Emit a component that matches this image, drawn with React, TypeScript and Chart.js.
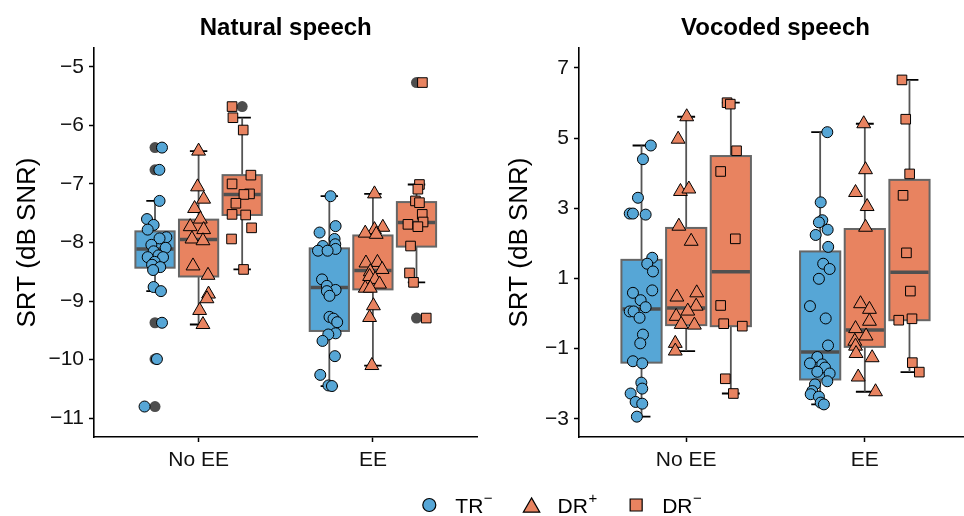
import React, { useEffect, useRef } from "react";
import { Chart, registerables } from "chart.js";

Chart.register(...registerables);

const FONT = '"Liberation Sans", Arial, Helvetica, sans-serif';
Chart.defaults.font.family = FONT;

// ---------- categories / legend ----------
const groupLabels = ["No EE", "EE"];
const conditionNames = ["TR", "DR", "DR"];
const conditionSups = ["\u2212", "+", "\u2212"];
const fills = ["#56A6D6", "#E88360", "#E88360"];
const shapes = ["circle", "triangle", "rect"];

// ---------- Natural speech ----------
const natTicks = [-11, -10, -9, -8, -7, -6, -5];
// box stats: [lower whisker, Q1, median, Q3, upper whisker]
// order: NoEE TR, NoEE DR+, NoEE DR-, EE TR, EE DR+, EE DR-
const natBoxes = [
  [-8.83, -8.43, -8.11, -7.81, -7.29],
  [-9.4, -8.58, -7.95, -7.61, -6.44],
  [-8.46, -7.53, -7.18, -6.85, -5.87],
  [-10.45, -9.51, -8.77, -8.1, -7.21],
  [-10.1, -8.8, -8.48, -7.88, -7.17],
  [-8.68, -8.07, -7.66, -7.31, -7.01],
];
const natOutliers = [
  [-6.38, -6.76, -9.37, -9.99, -10.8],
  [],
  [-5.68],
  [],
  [],
  [-5.27, -9.29],
];
const natNoEE_TR_y = [-6.38, -6.76, -7.29, -7.6, -7.7, -7.78, -7.91, -7.93, -8.04, -8.09, -8.15, -8.22, -8.25, -8.25, -8.33, -8.38, -8.42, -8.47, -8.76, -8.83, -9.37, -9.99, -10.8];
const natNoEE_TR_dx = [0.04, 0.025, 0.026, -0.046, -0.008, -0.042, 0.065, 0.026, -0.021, 0.061, -0.008, 0.02, -0.042, 0.046, -0.002, -0.017, 0.03, -0.011, -0.008, 0.034, 0.04, 0.011, -0.06];
const natNoEE_DRp_y = [-6.44, -7.05, -7.26, -7.42, -7.6, -7.73, -7.78, -7.94, -7.97, -8.4, -8.56, -8.88, -8.96, -9.16, -9.4];
const natNoEE_DRp_dx = [0, -0.006, 0.029, -0.023, 0.01, -0.048, 0.029, -0.038, 0.025, -0.032, 0.054, 0.057, 0.048, 0.006, 0.025];
const natNoEE_DRm_y = [-5.68, -5.87, -6.08, -6.85, -7.0, -7.17, -7.18, -7.33, -7.52, -7.53, -7.75, -7.94, -8.46];
const natNoEE_DRm_dx = [-0.058, -0.053, 0.006, 0.05, -0.058, 0.042, 0.01, -0.036, -0.058, 0.02, 0.054, -0.061, 0.008];
const natEE_TR_y = [-7.21, -7.72, -7.83, -7.94, -8.03, -8.06, -8.11, -8.14, -8.14, -8.63, -8.74, -8.81, -8.83, -8.91, -9.27, -9.3, -9.36, -9.55, -9.57, -9.68, -9.94, -10.26, -10.44, -10.45];
const natEE_TR_dx = [0.007, 0.036, -0.056, 0.03, 0.034, -0.037, 0.036, -0.065, -0.01, -0.042, -0.014, 0.036, -0.014, 0.001, 0.001, 0.024, 0.045, 0.036, -0.006, -0.039, 0.032, -0.052, -0.005, 0.015];
const natEE_DRp_y = [-7.17, -7.74, -7.78, -7.84, -7.86, -8.34, -8.35, -8.46, -8.5, -8.58, -8.63, -8.71, -8.78, -8.78, -9.08, -9.28, -10.1];
const natEE_DRp_dx = [0.009, 0.057, 0.009, -0.044, 0.019, 0.026, -0.04, 0.053, -0.015, -0.019, 0.013, 0.038, -0.044, -0.015, 0.003, -0.019, -0.006];
const natEE_DRm_y = [-5.27, -7.01, -7.09, -7.29, -7.32, -7.52, -7.65, -7.69, -7.73, -8.06, -8.52, -8.68, -9.29];
const natEE_DRm_dx = [0.034, 0.017, 0.008, -0.006, 0.017, 0.033, 0.038, -0.049, 0.008, -0.034, -0.04, -0.017, 0.056];

// ---------- Vocoded speech ----------
const vocTicks = [-3, -1, 1, 3, 5, 7];
const vocBoxes = [
  [-2.94, -1.4, 0.13, 1.53, 4.79],
  [-1.07, -0.33, 0.16, 2.44, 5.61],
  [-2.28, -0.36, 1.19, 4.49, 6.01],
  [-2.59, -1.88, -1.1, 1.77, 5.17],
  [-2.23, -0.95, -0.47, 2.41, 5.41],
  [-1.67, -0.19, 1.18, 3.81, 6.66],
];
const vocOutliers = [[], [], [], [], [], []];
const vocNoEE_TR_y = [4.79, 4.4, 3.3, 2.85, 2.85, 2.82, 1.59, 1.42, 1.2, 0.66, 0.59, 0.38, 0.18, 0.06, 0.06, -0.12, -0.6, -0.85, -1.36, -1.42, -1.97, -2.14, -2.28, -2.52, -2.57, -2.94];
const vocNoEE_TR_dx = [0.052, 0.008, -0.02, -0.066, -0.048, 0.023, 0.06, 0.032, 0.064, 0.06, -0.048, -0.005, 0.023, -0.066, -0.044, -0.011, 0.008, -0.007, -0.048, 0.004, -0.001, 0.004, -0.061, -0.033, 0.004, -0.026];
const vocNoEE_DRp_y = [5.61, 4.97, 3.48, 3.55, 2.49, 2.06, 0.47, 0.59, 0.21, 0.07, -0.08, -0.31, -0.33, -0.85, -1.07];
const vocNoEE_DRp_dx = [0.003, -0.045, -0.032, 0.015, -0.041, 0.028, -0.052, 0.059, 0.056, 0.009, -0.056, -0.028, 0.046, -0.061, -0.061];
const vocNoEE_DRm_y = [6.01, 5.97, 4.64, 4.05, 2.13, 0.23, -0.29, -0.36, -1.86, -2.28];
const vocNoEE_DRm_dx = [-0.021, -0.003, 0.032, -0.057, 0.025, -0.057, -0.04, 0.064, -0.031, 0.014];
const vocEE_TR_y = [5.17, 3.17, 2.66, 2.6, 2.39, 2.24, 1.9, 1.42, 1.27, 0.99, 0.21, -0.14, -0.91, -1.24, -1.42, -1.45, -1.54, -1.66, -1.71, -1.93, -2.02, -2.21, -2.3, -2.37, -2.54, -2.59];
const vocEE_TR_dx = [0.04, 0.003, 0.012, -0.007, 0.042, -0.025, 0.045, 0.017, 0.053, -0.007, -0.057, 0.031, 0.044, -0.016, -0.057, 0.012, 0.027, -0.016, 0.053, 0.04, -0.029, -0.044, -0.053, -0.007, 0.003, 0.021];
const vocEE_DRp_y = [5.41, 4.1, 3.45, 3.05, 2.46, 0.28, 0.12, -0.22, -0.43, -0.64, -0.79, -0.93, -1.14, -1.26, -1.81, -2.23];
const vocEE_DRp_dx = [-0.006, 0.004, -0.052, 0.013, 0.004, -0.024, 0.026, 0.026, -0.052, 0.007, -0.056, -0.052, -0.049, 0.041, -0.037, 0.06];
const vocEE_DRm_y = [6.66, 5.54, 3.98, 3.37, 1.73, 0.64, -0.19, -0.15, -1.4, -1.67];
const vocEE_DRm_dx = [-0.042, -0.021, 0.001, -0.036, -0.017, 0.005, -0.06, 0.014, 0.016, 0.055];

// ---------- geometry of the dodge ----------
const DODGE = 0.25;
const BOX_W = 0.225;
const CAP_W = 0.1;
const pointRadii = [5.5, 8, 6.8];
const legendRadii = [6.5, 9.5, 8.5];

const fmt = (v: number) => (v < 0 ? "\u2212" + Math.abs(v) : String(v));

const boxPlugin = {
  id: "boxes",
  beforeDatasetsDraw(chart: any, _args: any, opts: any) {
    const { ctx } = chart;
    const x = chart.scales.x;
    const y = chart.scales.y;
    const boxes: number[][] = opts.boxes;
    const outliers: number[][] = opts.outliers;
    ctx.save();
    boxes.forEach((b, i) => {
      const g = Math.floor(i / 3);
      const c = i % 3;
      const cx = g + 1 + (c - 1) * DODGE;
      const xc = x.getPixelForValue(cx);
      const xl = x.getPixelForValue(cx - BOX_W / 2);
      const xr = x.getPixelForValue(cx + BOX_W / 2);
      const cl = x.getPixelForValue(cx - CAP_W / 2);
      const cr = x.getPixelForValue(cx + CAP_W / 2);
      const [lo, q1, med, q3, hi] = b.map((v) => y.getPixelForValue(v));
      // caps
      ctx.strokeStyle = "#000";
      ctx.lineWidth = 1.8;
      ctx.beginPath();
      ctx.moveTo(cl, lo);
      ctx.lineTo(cr, lo);
      ctx.moveTo(cl, hi);
      ctx.lineTo(cr, hi);
      ctx.stroke();
      // whiskers
      ctx.strokeStyle = "#555";
      ctx.lineWidth = 1.8;
      ctx.beginPath();
      ctx.moveTo(xc, lo);
      ctx.lineTo(xc, q1);
      ctx.moveTo(xc, q3);
      ctx.lineTo(xc, hi);
      ctx.stroke();
      // box
      ctx.fillStyle = fills[c];
      ctx.fillRect(xl, q3, xr - xl, q1 - q3);
      ctx.strokeStyle = "#666";
      ctx.lineWidth = 2;
      ctx.strokeRect(xl, q3, xr - xl, q1 - q3);
      // median
      ctx.strokeStyle = "#505050";
      ctx.lineWidth = 3.5;
      ctx.beginPath();
      ctx.moveTo(xl + 1, med);
      ctx.lineTo(xr - 1, med);
      ctx.stroke();
      // outliers
      ctx.fillStyle = "#4d4d4d";
      (outliers[i] || []).forEach((v) => {
        ctx.beginPath();
        ctx.arc(xc, y.getPixelForValue(v), 5.5, 0, Math.PI * 2);
        ctx.fill();
      });
    });
    ctx.restore();
  },
};

const titlePlugin = {
  id: "panelTitle",
  afterDraw(chart: any, _args: any, opts: any) {
    const { ctx, chartArea } = chart;
    ctx.save();
    ctx.font = `bold 24px ${FONT}`;
    ctx.fillStyle = "#000";
    ctx.textAlign = "center";
    ctx.textBaseline = "alphabetic";
    ctx.fillText(opts.text, (chartArea.left + chartArea.right) / 2, 35);
    ctx.restore();
  },
};

function drawMarker(ctx: CanvasRenderingContext2D, shape: string, x: number, y: number, r: number, fill: string) {
  ctx.save();
  ctx.beginPath();
  if (shape === "circle") {
    ctx.arc(x, y, r, 0, Math.PI * 2);
  } else if (shape === "triangle") {
    const yy = y + r / 4;
    let a = 0;
    ctx.moveTo(x + Math.sin(a) * r, yy - Math.cos(a) * r);
    a += (2 * Math.PI) / 3;
    ctx.lineTo(x + Math.sin(a) * r, yy - Math.cos(a) * r);
    a += (2 * Math.PI) / 3;
    ctx.lineTo(x + Math.sin(a) * r, yy - Math.cos(a) * r);
  } else {
    const s = r * Math.SQRT1_2;
    ctx.rect(x - s, y - s, 2 * s, 2 * s);
  }
  ctx.closePath();
  ctx.fillStyle = fill;
  ctx.fill();
  ctx.lineWidth = 1.2;
  ctx.strokeStyle = "#000";
  ctx.stroke();
  ctx.restore();
}

const legendPlugin = {
  id: "bottomLegend",
  afterDraw(chart: any) {
    const ctx = chart.ctx as CanvasRenderingContext2D;
    const cy = 25;
    let x = 429.3;
    ctx.save();
    conditionNames.forEach((name, i) => {
      drawMarker(ctx, shapes[i], x, cy, legendRadii[i], fills[i]);
      const tx = x + 26;
      ctx.fillStyle = "#000";
      ctx.textAlign = "left";
      ctx.textBaseline = "alphabetic";
      ctx.font = `21px ${FONT}`;
      ctx.fillText(name, tx, cy + 8);
      const w = ctx.measureText(name).width;
      ctx.font = `15px ${FONT}`;
      ctx.fillText(conditionSups[i], tx + w + 0.5, cy - 2);
      const sw = ctx.measureText(conditionSups[i]).width;
      x = tx + w + 0.5 + sw + 39;
    });
    ctx.restore();
  },
};

type PanelCfg = {
  title: string;
  ys: number[][];
  dxs: number[][];
  boxes: number[][];
  outliers: number[][];
  yTicks: number[];
  yMin: number;
  yMax: number;
  yAxisWidth: number;
  yTitlePad: number;
  padRight: number;
};

const natCfg: PanelCfg = {
  title: "Natural speech",
  ys: [natNoEE_TR_y, natNoEE_DRp_y, natNoEE_DRm_y, natEE_TR_y, natEE_DRp_y, natEE_DRm_y],
  dxs: [natNoEE_TR_dx, natNoEE_DRp_dx, natNoEE_DRm_dx, natEE_TR_dx, natEE_DRp_dx, natEE_DRm_dx],
  boxes: natBoxes,
  outliers: natOutliers,
  yTicks: natTicks,
  yMin: -11.32,
  yMax: -4.68,
  yAxisWidth: 94,
  yTitlePad: 12.4,
  padRight: 12.5,
};

const vocCfg: PanelCfg = {
  title: "Vocoded speech",
  ys: [vocNoEE_TR_y, vocNoEE_DRp_y, vocNoEE_DRm_y, vocEE_TR_y, vocEE_DRp_y, vocEE_DRm_y],
  dxs: [vocNoEE_TR_dx, vocNoEE_DRp_dx, vocNoEE_DRm_dx, vocEE_TR_dx, vocEE_DRp_dx, vocEE_DRm_dx],
  boxes: vocBoxes,
  outliers: vocOutliers,
  yTicks: vocTicks,
  yMin: -3.52,
  yMax: 7.57,
  yAxisWidth: 88,
  yTitlePad: 13.4,
  padRight: 7,
};

function makePanel(canvas: HTMLCanvasElement, p: PanelCfg) {
  const datasets = [0, 1, 2].map((c) => ({
    label: conditionNames[c] + conditionSups[c],
    data: [0, 1].flatMap((g) =>
      p.ys[g * 3 + c].map((v, k) => ({ x: g + 1 + (c - 1) * DODGE + p.dxs[g * 3 + c][k], y: v }))
    ),
    pointStyle: shapes[c] as any,
    pointRadius: pointRadii[c],
    pointHoverRadius: pointRadii[c],
    backgroundColor: fills[c],
    borderColor: "#000",
    borderWidth: 1,
  }));
  const tickFont = { size: 21, family: FONT };
  return new Chart(canvas, {
    type: "scatter",
    data: { datasets },
    options: {
      responsive: false,
      animation: false,
      events: [],
      layout: { padding: { top: 48, left: 0, right: p.padRight, bottom: 0 } },
      plugins: {
        legend: { display: false },
        tooltip: { enabled: false },
        // @ts-ignore
        panelTitle: { text: p.title },
        // @ts-ignore
        boxes: { boxes: p.boxes, outliers: p.outliers },
      },
      scales: {
        x: {
          type: "linear",
          min: 0.4,
          max: 2.6,
          afterBuildTicks: (s: any) => {
            s.ticks = [{ value: 1 }, { value: 2 }];
          },
          afterFit: (s: any) => {
            s.height = 43;
          },
          ticks: {
            callback: (v: any) => groupLabels[Math.round(Number(v)) - 1],
            font: tickFont,
            color: "#111",
            padding: 6,
            autoSkip: false,
            maxRotation: 0,
          },
          grid: { display: true, drawOnChartArea: false, drawTicks: true, tickLength: 5, tickColor: "#000", tickWidth: 1.5 },
          border: { display: true, color: "#000", width: 1.6 },
        },
        y: {
          type: "linear",
          min: p.yMin,
          max: p.yMax,
          afterBuildTicks: (s: any) => {
            s.ticks = p.yTicks.map((v) => ({ value: v }));
          },
          afterFit: (s: any) => {
            s.width = p.yAxisWidth;
          },
          ticks: {
            callback: (v: any) => fmt(Number(v)),
            font: tickFont,
            color: "#111",
            padding: 5,
          },
          grid: { display: true, drawOnChartArea: false, drawTicks: true, tickLength: 5, tickColor: "#000", tickWidth: 1.5 },
          border: { display: true, color: "#000", width: 1.6 },
          title: {
            display: true,
            text: "SRT (dB SNR)",
            font: { size: 26, family: FONT },
            color: "#000",
            padding: { top: p.yTitlePad, bottom: 0 },
          },
        },
      },
    } as any,
    plugins: [boxPlugin, titlePlugin],
  });
}

function makeLegend(canvas: HTMLCanvasElement) {
  return new Chart(canvas, {
    type: "scatter",
    data: { datasets: [] },
    options: {
      responsive: false,
      animation: false,
      events: [],
      plugins: { legend: { display: false }, tooltip: { enabled: false } },
      scales: { x: { display: false }, y: { display: false } },
    },
    plugins: [legendPlugin],
  });
}

export default function App() {
  const leftRef = useRef<HTMLCanvasElement>(null);
  const rightRef = useRef<HTMLCanvasElement>(null);
  const legRef = useRef<HTMLCanvasElement>(null);

  useEffect(() => {
    const charts = [
      makePanel(leftRef.current!, natCfg),
      makePanel(rightRef.current!, vocCfg),
      makeLegend(legRef.current!),
    ];
    return () => charts.forEach((c) => c.destroy());
  }, []);

  return (
    <div
      style={{
        position: "fixed",
        left: 0,
        top: 0,
        width: 964,
        height: 516,
        overflow: "hidden",
        background: "#fff",
      }}
    >
      <canvas ref={leftRef} width={490} height={480} style={{ position: "absolute", left: 0, top: 0, width: 490, height: 480 }} />
      <canvas ref={rightRef} width={490} height={480} style={{ position: "absolute", left: 491, top: 0, width: 490, height: 480 }} />
      <canvas ref={legRef} width={964} height={36} style={{ position: "absolute", left: 0, top: 480, width: 964, height: 36 }} />
    </div>
  );
}
